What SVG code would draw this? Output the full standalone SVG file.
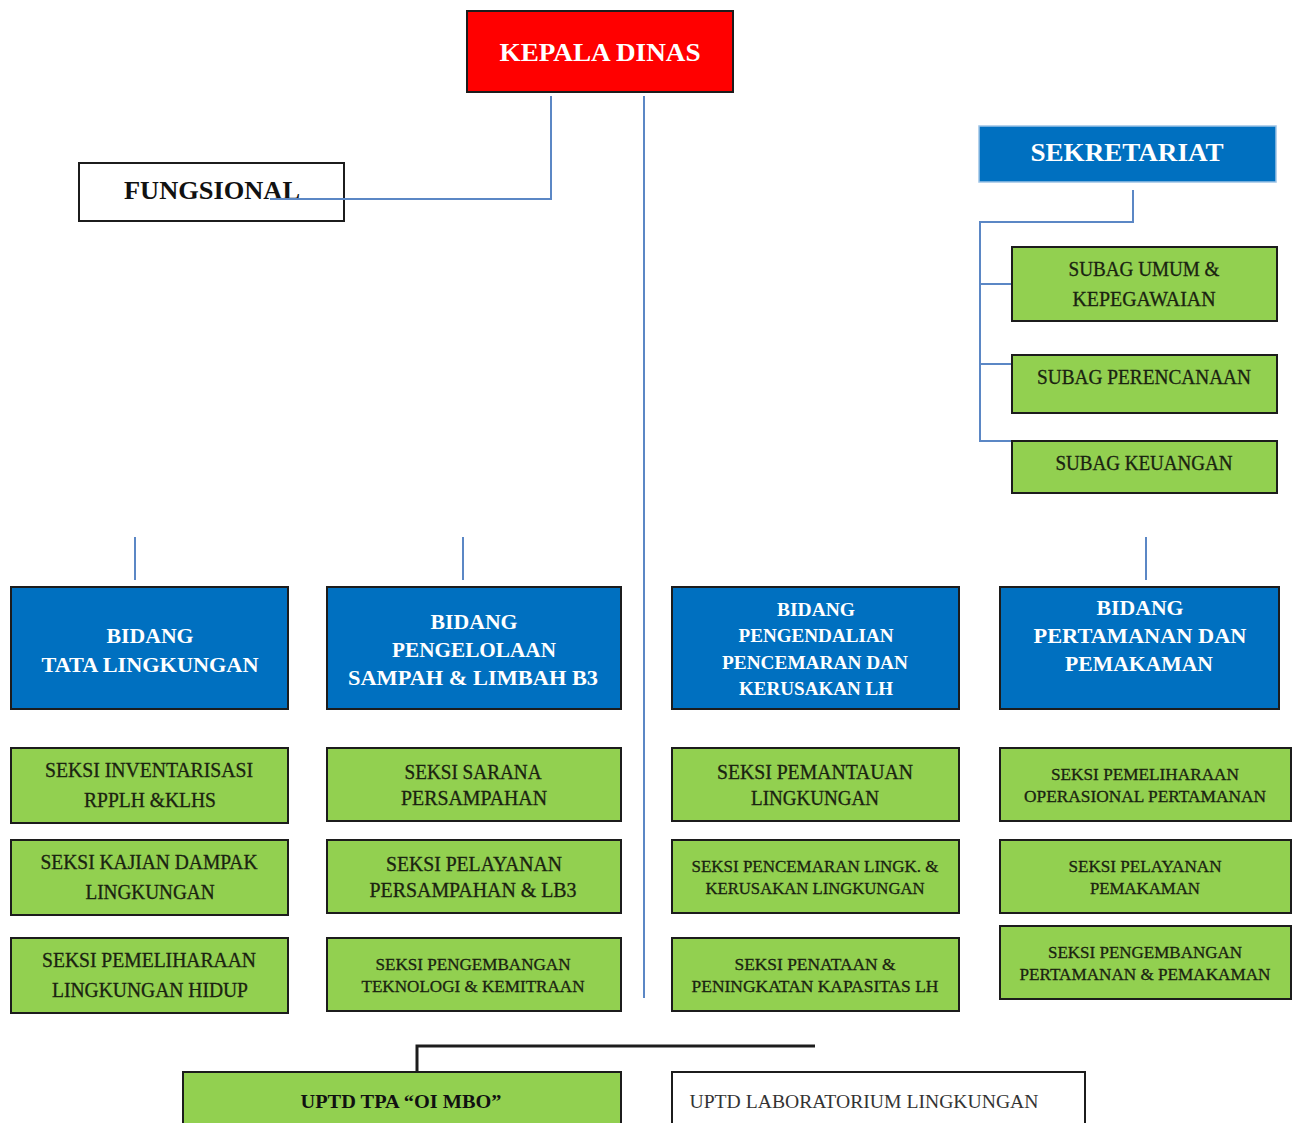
<svg xmlns="http://www.w3.org/2000/svg" width="1298" height="1123" viewBox="0 0 1298 1123">
<style>
.g{fill:#92D050;stroke:#1c1c1c;stroke-width:2}
.b{fill:#0070C0;stroke:#1c1c1c;stroke-width:2}
.w{fill:#fff;stroke:#1c1c1c;stroke-width:2}
.c{fill:none;stroke:#5B87C5;stroke-width:2}
.k{fill:none;stroke:#1c1c1c;stroke-width:3}
text{font-family:"Liberation Serif",serif;text-anchor:middle}
.t{font-size:20px;fill:#1a2310;stroke:#1a2310;stroke-width:0.3}
.s{font-size:17px;fill:#1a2310;stroke:#1a2310;stroke-width:0.3}
.h{font-size:22px;font-weight:bold;fill:#fff}
.hs{font-size:19px;font-weight:bold;fill:#fff}
</style>
<rect width="1298" height="1123" fill="#fff"/>
<g id="kepala-dinas">
<rect x="467" y="11" width="266" height="81" fill="#FF0000" stroke="#1c1c1c" stroke-width="2"/>
<text x="600" y="61" font-size="26" font-weight="bold" fill="#fff" textLength="201" lengthAdjust="spacingAndGlyphs">KEPALA DINAS</text>
</g>
<g id="fungsional">
<rect class="w" x="79" y="163" width="265" height="58"/>
<text x="212" y="199" font-size="25" font-weight="bold" fill="#111" textLength="176" lengthAdjust="spacingAndGlyphs">FUNGSIONAL</text>
</g>
<g id="sekretariat">
<rect x="979" y="126" width="297" height="56" fill="#0070C0" stroke="#9DC3E6" stroke-width="1.5"/>
<text x="1127" y="161" font-size="26" font-weight="bold" fill="#fff" textLength="193" lengthAdjust="spacingAndGlyphs">SEKRETARIAT</text>
</g>
<g id="subag-umum">
<rect class="g" x="1012" y="247" width="265" height="74"/>
<text class="t" x="1144" y="276" textLength="151" lengthAdjust="spacingAndGlyphs">SUBAG UMUM &amp;</text>
<text class="t" x="1144" y="306" textLength="143" lengthAdjust="spacingAndGlyphs">KEPEGAWAIAN</text>
</g>
<g id="subag-perencanaan">
<rect class="g" x="1012" y="355" width="265" height="58"/>
<text class="t" x="1144" y="384" textLength="214" lengthAdjust="spacingAndGlyphs">SUBAG PERENCANAAN</text>
</g>
<g id="subag-keuangan">
<rect class="g" x="1012" y="441" width="265" height="52"/>
<text class="t" x="1144" y="470" textLength="177" lengthAdjust="spacingAndGlyphs">SUBAG KEUANGAN</text>
</g>
<g id="bidang-tata">
<rect class="b" x="11" y="587" width="277" height="122"/>
<text class="h" x="150" y="643" textLength="87" lengthAdjust="spacingAndGlyphs">BIDANG</text>
<text class="h" x="150" y="672" textLength="217" lengthAdjust="spacingAndGlyphs">TATA LINGKUNGAN</text>
</g>
<g id="bidang-sampah">
<rect class="b" x="327" y="587" width="294" height="122"/>
<text class="h" x="474" y="629" textLength="87" lengthAdjust="spacingAndGlyphs">BIDANG</text>
<text class="h" x="474" y="657" textLength="164" lengthAdjust="spacingAndGlyphs">PENGELOLAAN</text>
<text class="h" x="473" y="685" textLength="250" lengthAdjust="spacingAndGlyphs">SAMPAH &amp; LIMBAH B3</text>
</g>
<g id="bidang-pengendalian">
<rect class="b" x="672" y="587" width="287" height="122"/>
<text class="hs" x="816" y="616" textLength="78" lengthAdjust="spacingAndGlyphs">BIDANG</text>
<text class="hs" x="816" y="642" textLength="155" lengthAdjust="spacingAndGlyphs">PENGENDALIAN</text>
<text class="hs" x="815" y="669" textLength="186" lengthAdjust="spacingAndGlyphs">PENCEMARAN DAN</text>
<text class="hs" x="816" y="695" textLength="154" lengthAdjust="spacingAndGlyphs">KERUSAKAN LH</text>
</g>
<g id="bidang-pertamanan">
<rect class="b" x="1000" y="587" width="279" height="122"/>
<text class="h" x="1140" y="615" textLength="87" lengthAdjust="spacingAndGlyphs">BIDANG</text>
<text class="h" x="1140" y="643" textLength="213" lengthAdjust="spacingAndGlyphs">PERTAMANAN DAN</text>
<text class="h" x="1139" y="671" textLength="148" lengthAdjust="spacingAndGlyphs">PEMAKAMAN</text>
</g>
<g id="seksi-inventarisasi">
<rect class="g" x="11" y="748" width="277" height="75"/>
<text class="t" x="149" y="777" textLength="208" lengthAdjust="spacingAndGlyphs">SEKSI INVENTARISASI</text>
<text class="t" x="150" y="807" textLength="132" lengthAdjust="spacingAndGlyphs">RPPLH &amp;KLHS</text>
</g>
<g id="seksi-kajian">
<rect class="g" x="11" y="840" width="277" height="75"/>
<text class="t" x="149" y="869" textLength="217" lengthAdjust="spacingAndGlyphs">SEKSI KAJIAN DAMPAK</text>
<text class="t" x="150" y="899" textLength="129" lengthAdjust="spacingAndGlyphs">LINGKUNGAN</text>
</g>
<g id="seksi-pemeliharaan-lh">
<rect class="g" x="11" y="938" width="277" height="75"/>
<text class="t" x="149" y="967" textLength="214" lengthAdjust="spacingAndGlyphs">SEKSI PEMELIHARAAN</text>
<text class="t" x="150" y="997" textLength="196" lengthAdjust="spacingAndGlyphs">LINGKUNGAN HIDUP</text>
</g>
<g id="seksi-sarana">
<rect class="g" x="327" y="748" width="294" height="73"/>
<text class="t" x="473" y="779" textLength="137" lengthAdjust="spacingAndGlyphs">SEKSI SARANA</text>
<text class="t" x="474" y="805" textLength="146" lengthAdjust="spacingAndGlyphs">PERSAMPAHAN</text>
</g>
<g id="seksi-pelayanan-sampah">
<rect class="g" x="327" y="840" width="294" height="73"/>
<text class="t" x="474" y="871" textLength="176" lengthAdjust="spacingAndGlyphs">SEKSI PELAYANAN</text>
<text class="t" x="473" y="897" textLength="207" lengthAdjust="spacingAndGlyphs">PERSAMPAHAN &amp; LB3</text>
</g>
<g id="seksi-pengembangan-teknologi">
<rect class="g" x="327" y="938" width="294" height="73"/>
<text class="s" x="473" y="970" textLength="195" lengthAdjust="spacingAndGlyphs">SEKSI PENGEMBANGAN</text>
<text class="s" x="473" y="992" textLength="223" lengthAdjust="spacingAndGlyphs">TEKNOLOGI &amp; KEMITRAAN</text>
</g>
<g id="seksi-pemantauan">
<rect class="g" x="672" y="748" width="287" height="73"/>
<text class="t" x="815" y="779" textLength="196" lengthAdjust="spacingAndGlyphs">SEKSI PEMANTAUAN</text>
<text class="t" x="815" y="805" textLength="128" lengthAdjust="spacingAndGlyphs">LINGKUNGAN</text>
</g>
<g id="seksi-pencemaran">
<rect class="g" x="672" y="840" width="287" height="73"/>
<text class="s" x="815" y="872" textLength="247" lengthAdjust="spacingAndGlyphs">SEKSI PENCEMARAN LINGK. &amp;</text>
<text class="s" x="815" y="894" textLength="219" lengthAdjust="spacingAndGlyphs">KERUSAKAN LINGKUNGAN</text>
</g>
<g id="seksi-penataan">
<rect class="g" x="672" y="938" width="287" height="73"/>
<text class="s" x="815" y="970" textLength="161" lengthAdjust="spacingAndGlyphs">SEKSI PENATAAN &amp;</text>
<text class="s" x="815" y="992" textLength="247" lengthAdjust="spacingAndGlyphs">PENINGKATAN KAPASITAS LH</text>
</g>
<g id="seksi-pemeliharaan-pertamanan">
<rect class="g" x="1000" y="748" width="291" height="73"/>
<text class="s" x="1145" y="780" textLength="188" lengthAdjust="spacingAndGlyphs">SEKSI PEMELIHARAAN</text>
<text class="s" x="1145" y="802" textLength="242" lengthAdjust="spacingAndGlyphs">OPERASIONAL PERTAMANAN</text>
</g>
<g id="seksi-pelayanan-pemakaman">
<rect class="g" x="1000" y="840" width="291" height="73"/>
<text class="s" x="1145" y="872" textLength="153" lengthAdjust="spacingAndGlyphs">SEKSI PELAYANAN</text>
<text class="s" x="1145" y="894" textLength="110" lengthAdjust="spacingAndGlyphs">PEMAKAMAN</text>
</g>
<g id="seksi-pengembangan-pertamanan">
<rect class="g" x="1000" y="926" width="291" height="73"/>
<text class="s" x="1145" y="958" textLength="194" lengthAdjust="spacingAndGlyphs">SEKSI PENGEMBANGAN</text>
<text class="s" x="1145" y="980" textLength="251" lengthAdjust="spacingAndGlyphs">PERTAMANAN &amp; PEMAKAMAN</text>
</g>
<g id="uptd-tpa">
<rect class="g" x="183" y="1072" width="438" height="60"/>
<text x="401" y="1108" font-size="19" font-weight="bold" fill="#111" textLength="201" lengthAdjust="spacingAndGlyphs">UPTD  TPA “OI MBO”</text>
</g>
<g id="uptd-lab">
<rect class="w" x="672" y="1072" width="413" height="60"/>
<text x="864" y="1108" font-size="19" fill="#333" textLength="349" lengthAdjust="spacingAndGlyphs">UPTD LABORATORIUM LINGKUNGAN</text>
</g>
<g id="connectors">
<path class="c" d="M551 96V199H270"/>
<path class="c" d="M644 96V998"/>
<path class="c" d="M1133 190V222H980V441H1011M980 284H1011M980 364H1011"/>
<path class="c" d="M135 537V580M463 537V580M1146 537V580"/>
<path class="k" d="M417 1073V1046H815"/>
</g>
</svg>
